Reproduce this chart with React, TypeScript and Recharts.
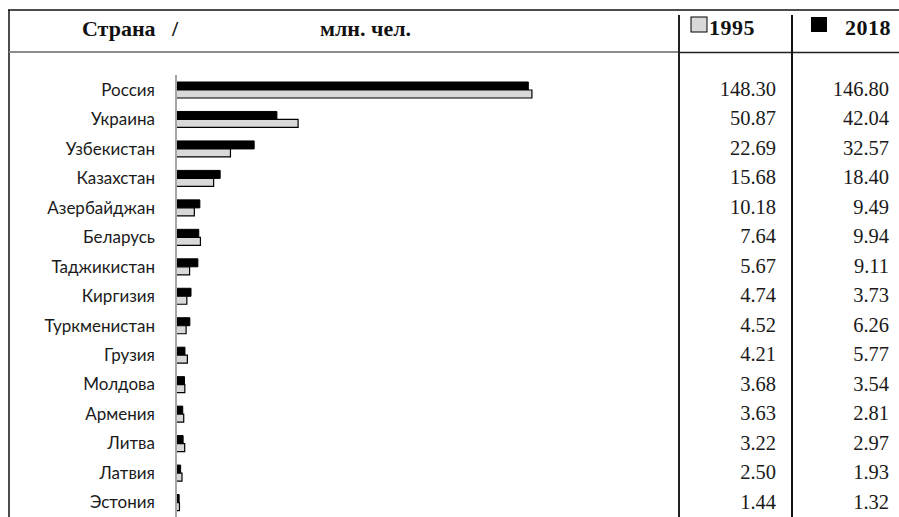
import React from "react";
import { BarChart, Bar, XAxis, YAxis, LabelList } from "recharts";

// ── Data ──────────────────────────────────────────────────────────────────────

const COUNTRIES = [
  "Россия", "Украина", "Узбекистан", "Казахстан", "Азербайджан", "Беларусь",
  "Таджикистан", "Киргизия", "Туркменистан", "Грузия", "Молдова", "Армения",
  "Литва", "Латвия", "Эстония",
];

// values printed in the table columns
const TABLE_1995 = [148.3, 50.87, 22.69, 15.68, 10.18, 7.64, 5.67, 4.74, 4.52, 4.21, 3.68, 3.63, 3.22, 2.5, 1.44];
const TABLE_2018 = [146.8, 42.04, 32.57, 18.4, 9.49, 9.94, 9.11, 3.73, 6.26, 5.77, 3.54, 2.81, 2.97, 1.93, 1.32];

// bar lengths as drawn (they don't always follow the table)
const BAR_1995 = [148.3, 50.87, 22.69, 15.68, 7.64, 10.18, 5.67, 4.52, 4.21, 4.74, 3.68, 3.22, 3.63, 2.5, 1.44];
const BAR_2018 = [146.8, 42.04, 32.57, 18.4, 9.94, 9.49, 9.11, 6.26, 5.77, 3.73, 3.54, 2.81, 2.97, 1.93, 1.32];

const rows = COUNTRIES.map((name, i) => ({
  name,
  b1995: BAR_1995[i],
  b2018: BAR_2018[i],
  t1995: TABLE_1995[i],
  t2018: TABLE_2018[i],
}));

// ── Styles ────────────────────────────────────────────────────────────────────

const SERIF = "'Liberation Serif', 'Times New Roman', serif";
const SANS = "Lato, 'Open Sans', sans-serif";
const GREY = "#d9d9d9";

// table cell text: 1995 sits under the top of the grey bar, 2018 under the bottom of the black bar
function cellLabel(colRight: number, atBottom: boolean) {
  return (props: any) => {
    const { y, height, value } = props;
    const mid = atBottom ? Number(y) + Number(height) : Number(y);
    return (
      <text x={colRight} y={mid + 6} textAnchor="end" fontFamily={SERIF} fontSize={20.5} fill="#1a1a1a">
        {Number(value).toFixed(2)}
      </text>
    );
  };
}

export default function App() {
  return (
    <div
      style={{
        position: "absolute",
        left: 0,
        top: 0,
        width: 899,
        height: 517,
        background: "#fff",
        overflow: "hidden",
      }}
    >
      <BarChart
        width={899}
        height={517}
        layout="vertical"
        data={rows}
        margin={{ top: 75, right: 363, bottom: 0, left: 0 }}
        barGap={0}
        barSize={8}
      >
        <XAxis type="number" domain={[0, 150]} hide />
        <YAxis
          type="category"
          dataKey="name"
          width={176}
          interval={0}
          axisLine={{ stroke: "#a6a6a6", strokeWidth: 2 }}
          tickLine={false}
          tickSize={0}
          tickMargin={21}
          tick={{ fontSize: 17, fill: "#1a1a1a", fontFamily: SANS }}
        />
        <Bar dataKey="b2018" fill="#000" stroke="#000" strokeWidth={1} isAnimationActive={false}>
          <LabelList dataKey="t2018" content={cellLabel(889, true)} />
        </Bar>
        <Bar dataKey="b1995" fill={GREY} stroke="#000" strokeWidth={1.2} isAnimationActive={false}>
          <LabelList dataKey="t1995" content={cellLabel(776, false)} />
        </Bar>
      </BarChart>

      {/* frame + header */}
      <svg
        width={899}
        height={517}
        style={{ position: "absolute", left: 0, top: 0, pointerEvents: "none" }}
      >
        <line x1={8} y1={10} x2={899} y2={10} stroke="#111" strokeWidth={1.5} />
        <line x1={9} y1={10} x2={9} y2={517} stroke="#111" strokeWidth={1.5} />
        <line x1={9} y1={52} x2={680} y2={52} stroke="#8c8c8c" strokeWidth={2} />
        <line x1={680} y1={52.5} x2={899} y2={52.5} stroke="#222" strokeWidth={1.5} />
        <line x1={679} y1={15} x2={679} y2={517} stroke="#222" strokeWidth={2} />
        <line x1={792} y1={15} x2={792} y2={517} stroke="#111" strokeWidth={2} />

        <g fontFamily={SERIF} fontWeight="bold" fontSize={22} fill="#111">
          <text x={82} y={36}>Страна</text>
          <text x={172} y={36}>/</text>
          <text x={320} y={36}>млн. чел.</text>
          <text x={709} y={35} letterSpacing={0.5}>1995</text>
          <text x={845} y={35} letterSpacing={0.5}>2018</text>
        </g>
        <rect x={691} y={17} width={16} height={15} fill={GREY} stroke="#000" strokeWidth={1} />
        <rect x={811} y={17} width={16} height={15} fill="#000" />
      </svg>
    </div>
  );
}
